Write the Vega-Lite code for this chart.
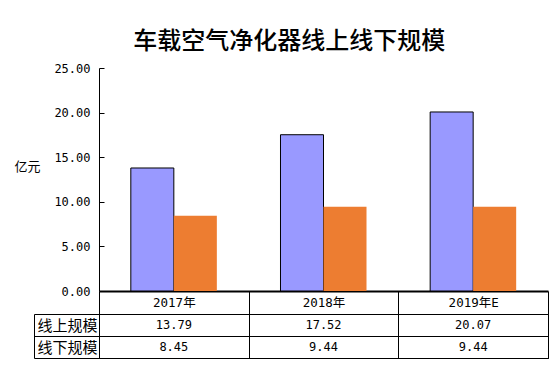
{
  "$schema": "https://vega.github.io/schema/vega-lite/v6.json",
  "background": "white",
  "padding": {"left": 14, "top": 30, "right": 8, "bottom": 4},
  "bounds": "flush",
  "spacing": 23,
  "title": {"text": "车载空气净化器线上线下规模", "font": "Noto Sans CJK SC", "fontSize": 24, "fontWeight": 500, "color": "black", "anchor": "middle", "offset": 8, "dx": 8},
  "data": {"values": [
    {"year": "2017年", "series": "线上规模", "value": 13.79},
    {"year": "2017年", "series": "线下规模", "value": 8.45},
    {"year": "2018年", "series": "线上规模", "value": 17.52},
    {"year": "2018年", "series": "线下规模", "value": 9.44},
    {"year": "2019年E", "series": "线上规模", "value": 20.07},
    {"year": "2019年E", "series": "线下规模", "value": 9.44}
  ]},
  "config": {"view": {"stroke": null}},
  "vconcat": [
    {
      "width": 449,
      "height": 223,
      "mark": {"type": "bar", "strokeWidth": 1},
      "encoding": {
        "x": {"field": "year", "type": "nominal", "sort": null,
          "scale": {"type": "band", "paddingInner": 0, "paddingOuter": 0},
          "axis": {"title": null, "domainColor": "black", "domainWidth": 2, "tickBand": "extent", "tickSize": 23, "tickColor": "black", "tickWidth": 1, "labelPadding": -11.5, "labelBaseline": "middle", "labelAngle": 0, "labelFont": "DejaVu Sans Mono, Noto Sans CJK SC", "labelFontSize": 12.5, "labelColor": "black"}},
        "xOffset": {"field": "series", "type": "nominal", "sort": ["线上规模", "线下规模"], "scale": {"paddingInner": 0, "paddingOuter": 0.74}},
        "y": {"field": "value", "type": "quantitative", "scale": {"domain": [0, 25]},
          "axis": {"values": [0, 5, 10, 15, 20, 25], "format": ".2f", "grid": false, "domainColor": "black", "tickColor": "black", "tickSize": -5, "labelPadding": 14, "labelFont": "DejaVu Sans Mono", "labelFontSize": 12, "labelColor": "black",
            "title": "亿元", "titleAngle": 0, "titleX": -85, "titleY": 98, "titleAlign": "left", "titleBaseline": "middle", "titleFont": "Noto Sans CJK SC", "titleFontSize": 13, "titleFontWeight": "normal", "titleColor": "black"}},
        "color": {"field": "series", "type": "nominal", "scale": {"domain": ["线上规模", "线下规模"], "range": ["#9999FF", "#ED7D31"]}, "legend": null},
        "stroke": {"field": "series", "type": "nominal", "scale": {"domain": ["线上规模", "线下规模"], "range": ["#000000", "rgba(0,0,0,0)"]}, "legend": null}
      }
    },
    {
      "width": 449,
      "height": 44,
      "view": {"stroke": "black", "strokeWidth": 1},
      "layer": [
        {
          "mark": {"type": "text", "font": "DejaVu Sans Mono", "fontSize": 12, "color": "black"},
          "encoding": {
            "x": {"field": "year", "type": "nominal", "sort": null, "scale": {"type": "band", "paddingInner": 0, "paddingOuter": 0},
              "axis": {"title": null, "grid": true, "gridColor": "black", "gridOpacity": 1, "tickBand": "extent", "labels": false, "ticks": false, "domain": false}},
            "y": {"field": "series", "type": "nominal", "sort": ["线上规模", "线下规模"], "scale": {"type": "band", "paddingInner": 0, "paddingOuter": 0},
              "axis": {"title": null, "grid": true, "gridColor": "black", "gridOpacity": 1, "tickBand": "extent", "tickSize": 65, "tickColor": "black", "domain": false, "labelPadding": -63, "labelFont": "Noto Sans CJK SC", "labelFontSize": 15, "labelColor": "black"}},
            "text": {"field": "value", "type": "quantitative", "format": ".2f"}
          }
        },
        {
          "mark": {"type": "point", "opacity": 0},
          "encoding": {
            "x": {"field": "year", "type": "nominal", "sort": null},
            "y": {"field": "series", "type": "nominal", "sort": ["线上规模", "线下规模"],
              "axis": {"orient": "left", "offset": 65, "title": null, "domain": true, "domainColor": "black", "ticks": false, "labels": false, "grid": false}}
          }
        }
      ],
      "resolve": {"axis": {"y": "independent"}}
    }
  ]
}
